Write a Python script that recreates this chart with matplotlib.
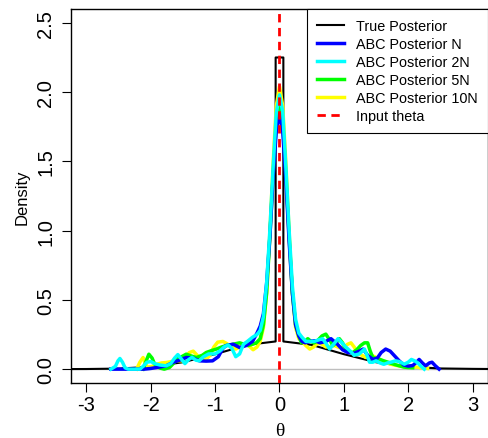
import numpy as np
import matplotlib
matplotlib.use("Agg")
from matplotlib import pyplot as plt

plt.rcParams['font.family'] = ['Liberation Sans', 'DejaVu Sans']

# true posterior: wide tails plus a narrow box at 0
true_x = [-3.3, -3.0, -2.5, -2.0, -1.5, -1.0, -0.5, -0.06, -0.06, 0.06, 0.06, 0.5, 1.0, 1.5, 2.0, 2.5, 3.0, 3.3]
true_y = [0.0005, 0.001, 0.004, 0.017, 0.05, 0.108, 0.175, 0.2, 2.25, 2.25, 0.2, 0.175, 0.108, 0.05, 0.017, 0.005, 0.002, 0.001]

# ABC posterior N (blue)
n1_x = [-2.62, -2.5, -2.3, -2.1, -2.0, -1.91, -1.76, -1.65, -1.55, -1.45, -1.35, -1.24, -1.14, -1.04,
        -0.95, -0.88, -0.83, -0.72, -0.62, -0.52, -0.42, -0.35,
        -0.3, -0.25, -0.2, -0.15, -0.1, -0.05, 0.0, 0.05, 0.1, 0.15, 0.2, 0.25,
        0.3, 0.35, 0.4, 0.47, 0.55, 0.63, 0.72, 0.8, 0.9, 0.98, 1.06, 1.16, 1.24, 1.3, 1.37, 1.45,
        1.52, 1.58, 1.65, 1.72, 1.78, 1.86, 1.93, 2.0, 2.07, 2.13, 2.17, 2.22, 2.27, 2.33, 2.37, 2.42, 2.48]
n1_y = [0.0, 0.0, 0.0, 0.0, 0.005, 0.012, 0.024, 0.05, 0.065, 0.084, 0.08, 0.06, 0.058, 0.06,
        0.09, 0.15, 0.17, 0.18, 0.156, 0.17, 0.2, 0.26,
        0.31, 0.40, 0.62, 0.95, 1.38, 1.72, 1.84, 1.72, 1.36, 0.92, 0.55, 0.32,
        0.24, 0.2, 0.19, 0.2, 0.205, 0.19, 0.2, 0.22, 0.18, 0.14, 0.12, 0.115, 0.13, 0.145, 0.1, 0.07,
        0.08, 0.12, 0.145, 0.13, 0.1, 0.06, 0.03, 0.022, 0.026, 0.05, 0.07, 0.045, 0.024, 0.045, 0.05, 0.025, 0.0]

# ABC posterior 2N (cyan)
n2_x = [-2.62, -2.55, -2.51, -2.48, -2.44, -2.4, -2.35, -2.25, -2.17, -2.12, -2.06, -2.0, -1.94, -1.86,
        -1.76, -1.69, -1.63, -1.58, -1.52, -1.47, -1.41, -1.36, -1.3, -1.25, -1.18, -1.1, -1.0, -0.93,
        -0.86, -0.8, -0.74, -0.68, -0.62, -0.56, -0.5, -0.42, -0.35,
        -0.3, -0.25, -0.2, -0.15, -0.1, -0.05, 0.0, 0.05, 0.1, 0.15, 0.2, 0.25,
        0.3, 0.35, 0.41, 0.48, 0.54, 0.6, 0.67, 0.73, 0.78, 0.84, 0.91, 0.97, 1.03, 1.1, 1.16, 1.24,
        1.32, 1.36, 1.4, 1.45, 1.5, 1.56, 1.62, 1.68, 1.73, 1.8, 1.86, 1.94, 2.0, 2.05, 2.1, 2.15, 2.2, 2.25]
n2_y = [0.0, 0.02, 0.06, 0.077, 0.05, 0.01, 0.0, 0.0, 0.0, 0.02, 0.05, 0.055, 0.04, 0.03,
        0.024, 0.04, 0.08, 0.105, 0.07, 0.04, 0.07, 0.085, 0.065, 0.06, 0.09, 0.11, 0.11, 0.13,
        0.16, 0.175, 0.15, 0.09, 0.11, 0.18, 0.2, 0.23, 0.25,
        0.28, 0.38, 0.62, 1.0, 1.45, 1.85, 1.98, 1.86, 1.45, 1.0, 0.6, 0.36,
        0.26, 0.23, 0.2, 0.2, 0.2, 0.21, 0.22, 0.18, 0.145, 0.18, 0.22, 0.19, 0.16, 0.13, 0.1, 0.11,
        0.145, 0.1, 0.05, 0.05, 0.06, 0.045, 0.035, 0.045, 0.05, 0.06, 0.055, 0.036, 0.05, 0.07, 0.06, 0.045, 0.02, 0.0]

# ABC posterior 5N (green)
n5_x = [-2.12, -2.08, -2.03, -1.98, -1.94, -1.86, -1.79, -1.71, -1.65, -1.6, -1.52, -1.45, -1.37, -1.29,
        -1.2, -1.14, -1.05, -0.98, -0.9, -0.83, -0.72, -0.62, -0.55, -0.49, -0.42, -0.36,
        -0.3, -0.25, -0.2, -0.15, -0.1, -0.05, 0.0, 0.05, 0.1, 0.15, 0.2, 0.25,
        0.3, 0.34, 0.39, 0.44, 0.49, 0.54, 0.6, 0.66, 0.72, 0.78, 0.83, 0.88, 0.93, 0.98, 1.03, 1.09,
        1.14, 1.2, 1.26, 1.32, 1.37, 1.41, 1.45, 1.55, 1.62, 1.7, 1.78, 1.86, 1.93, 1.99, 2.07]
n5_y = [0.0, 0.05, 0.108, 0.08, 0.036, 0.008, 0.0, 0.012, 0.04, 0.072, 0.09, 0.108, 0.095, 0.084,
        0.1, 0.12, 0.135, 0.145, 0.16, 0.17, 0.18, 0.19, 0.18, 0.17, 0.18, 0.19,
        0.22, 0.32, 0.55, 0.95, 1.4, 1.78, 1.9, 1.78, 1.4, 0.95, 0.55, 0.32,
        0.24, 0.19, 0.2, 0.22, 0.2, 0.19, 0.21, 0.24, 0.253, 0.21, 0.17, 0.19, 0.22, 0.19, 0.145, 0.125,
        0.12, 0.14, 0.17, 0.19, 0.19, 0.13, 0.084, 0.072, 0.06, 0.048, 0.035, 0.024, 0.015, 0.012, 0.01]

# ABC posterior 10N (yellow)
n10_x = [-2.22, -2.17, -2.12, -2.08, -2.05, -1.98, -1.91, -1.83, -1.76, -1.68, -1.6, -1.52, -1.46, -1.4,
         -1.34, -1.28, -1.22, -1.14, -1.08, -1.02, -0.96, -0.88, -0.82, -0.76, -0.68, -0.62, -0.55,
         -0.48, -0.41, -0.35,
         -0.3, -0.25, -0.2, -0.15, -0.1, -0.05, 0.0, 0.05, 0.1, 0.15, 0.2, 0.25,
         0.3, 0.35, 0.41, 0.47, 0.53, 0.6, 0.66, 0.72, 0.8, 0.86, 0.93, 1.0, 1.06, 1.11, 1.16, 1.21,
         1.28, 1.34, 1.4, 1.45, 1.52, 1.6, 1.67, 1.73, 1.8, 1.86, 1.95, 2.01, 2.1, 2.17, 2.3]
n10_y = [0.0, 0.05, 0.084, 0.04, 0.012, 0.02, 0.036, 0.045, 0.048, 0.055, 0.06, 0.06, 0.09, 0.12,
         0.13, 0.1, 0.08, 0.072, 0.1, 0.16, 0.195, 0.2, 0.185, 0.165, 0.145, 0.16, 0.18,
         0.17, 0.14, 0.16,
         0.2, 0.3, 0.55, 0.98, 1.48, 1.9, 2.04, 1.9, 1.48, 0.98, 0.55, 0.3,
         0.22, 0.2, 0.17, 0.145, 0.16, 0.19, 0.18, 0.16, 0.165, 0.17, 0.155, 0.16, 0.18, 0.19, 0.16, 0.12,
         0.1, 0.084, 0.09, 0.096, 0.08, 0.06, 0.045, 0.036, 0.028, 0.024, 0.024, 0.024, 0.016, 0.012, 0.005]

input_theta = 0.0

xticks = [-3, -2, -1, 0, 1, 2, 3]
yticks = [0.0, 0.5, 1.0, 1.5, 2.0, 2.5]
ytick_labels = ['0.0', '0.5', '1.0', '1.5', '2.0', '2.5']

fig = plt.figure(figsize=(4.89, 4.39), dpi=100)
ax = fig.add_axes([71 / 489, 55 / 439, 417 / 489, 374 / 439])

ax.axhline(0, color='#bebebe', lw=1, zorder=1)
l_true, = ax.plot(true_x, true_y, color='black', lw=1.5, zorder=2)
l10, = ax.plot(n10_x, n10_y, color='#ffff00', lw=2.5, zorder=3)
l5, = ax.plot(n5_x, n5_y, color='#00ff00', lw=2.5, zorder=4)
l1, = ax.plot(n1_x, n1_y, color='#0000ff', lw=2.5, zorder=5)
l2, = ax.plot(n2_x, n2_y, color='#00ffff', lw=2.5, zorder=6)
l_in = ax.axvline(input_theta, color='#ff0000', lw=2, dashes=(3, 2), zorder=7)

ax.set_xlim(-3.24, 3.24)
ax.set_ylim(-0.1, 2.6)
ax.set_xticks(xticks)
ax.set_xticklabels([str(v) for v in xticks], fontsize=14.5)
ax.set_yticks(yticks)
ax.set_yticklabels(ytick_labels, fontsize=14.5, rotation=90, va='center')
ax.tick_params(direction='out', length=6.5, width=0.8, pad=2)
ax.tick_params(axis='y', pad=5)
for s in ax.spines.values():
    s.set_linewidth(1)

ax.set_ylabel('Density', fontsize=12)
ax.yaxis.set_label_coords(-0.1, 0.5)
ax.set_xlabel('θ', fontsize=14, family=['Liberation Serif', 'DejaVu Serif'])
ax.xaxis.set_label_coords(0.5, -0.104)

leg = ax.legend([l_true, l1, l2, l5, l10, l_in],
                ['True Posterior', 'ABC Posterior N', 'ABC Posterior 2N', 'ABC Posterior 5N',
                 'ABC Posterior 10N', 'Input theta'],
                loc='upper right', bbox_to_anchor=(1, 1), borderaxespad=0, fontsize=10.4,
                fancybox=False, framealpha=1, edgecolor='black', handlelength=1.87,
                handletextpad=0.85, labelspacing=0.28, borderpad=0.7)
leg.get_frame().set_linewidth(0.8)

fig.savefig('out.png', dpi=100)
